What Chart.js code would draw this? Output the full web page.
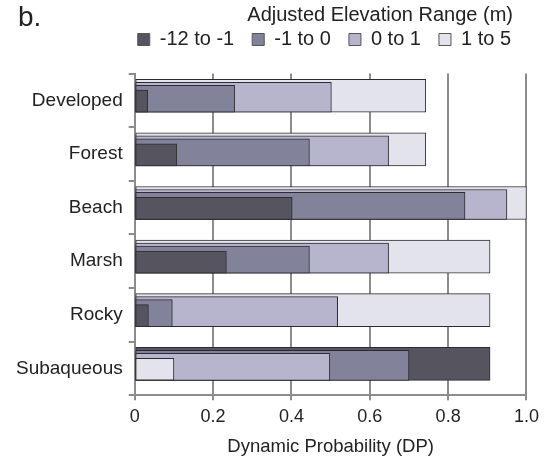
<!DOCTYPE html>
<html>
<head>
<meta charset="utf-8">
<script src="https://cdn.jsdelivr.net/npm/chart.js@4"></script>
<style>
  body { margin: 0; background: #fff; }
  #wrap { position: relative; width: 545px; height: 464px; }
  #panel { position: absolute; left: 18px; top: 1px; font: 28px "Liberation Sans", Arial, sans-serif; color: #222; }
</style>
</head>
<body>
<div id="wrap">
  <canvas id="chart"></canvas>
  <div id="panel">b.</div>
</div>
<script>
// Land cover classes (top to bottom)
const categories = ['Developed', 'Forest', 'Beach', 'Marsh', 'Rocky', 'Subaqueous'];

// Elevation ranges and their dynamic probability per class
const rangeLabels = ['-12 to -1', '-1 to 0', '0 to 1', '1 to 5'];
const rangeNeg12toNeg1 = [0.033, 0.107, 0.402, 0.234, 0.035, 0.907];
const rangeNeg1to0 = [0.255, 0.446, 0.843, 0.446, 0.096, 0.700];
const range0to1 = [0.502, 0.648, 0.950, 0.648, 0.518, 0.498];
const range1to5 = [0.743, 0.743, 1.000, 0.907, 0.907, 0.100];

const xTickLabels = ['0', '0.2', '0.4', '0.6', '0.8', '1.0'];

const rangeColors = ['#56555f', '#83829b', '#b7b5cd', '#e3e3eb'];
const edgeColor = '#2c2c30';
const axisGray = '#8c8c8c';
const textColor = '#222';
const FONT = '"Liberation Sans", Arial, sans-serif';

// bars overlap: longest bar is tallest and drawn behind, all share a bottom edge
const rankThickness = [33, 30, 27, 22];
const bandPx = 53.9;
const bottomFromCenter = 11.9;

const allSeries = [rangeNeg12toNeg1, rangeNeg1to0, range0to1, range1to5];

const datasets = [];
const scales = {};
for (let r = 0; r < 4; r++) {
    const data = [];
    const colors = [];
    categories.forEach((c, i) => {
        const sorted = allSeries.map((s, k) => ({ v: s[i], k: k }))
            .sort((a, b) => b.v - a.v);
        data.push({ x: sorted[r].v, y: i });
        colors.push(rangeColors[sorted[r].k]);
    });
    const id = 'y' + r;
    datasets.push({
        data: data,
        backgroundColor: colors,
        borderColor: edgeColor,
        borderWidth: 1,
        borderSkipped: false,
        barThickness: rankThickness[r],
        grouped: false,
        yAxisID: id,
        order: 4 - r
    });
    const shift = (bottomFromCenter - rankThickness[r] / 2) / bandPx;
    scales[id] = {
        type: 'linear',
        display: false,
        reverse: true,
        offset: false,
        min: -0.5 - shift,
        max: 5.5 - shift
    };
}

scales.y = {
    type: 'category',
    labels: categories,
    position: 'left',
    grid: {
        offset: true,
        drawOnChartArea: false,
        color: axisGray,
        lineWidth: 2,
        tickLength: 6
    },
    border: { color: axisGray, width: 2 },
    ticks: {
        color: textColor,
        font: { family: FONT, size: 19 },
        padding: 6
    }
};

scales.x = {
    type: 'linear',
    min: 0,
    max: 1,
    grid: {
        color: axisGray,
        lineWidth: 2,
        tickLength: 5
    },
    border: { color: axisGray, width: 2 },
    ticks: {
        stepSize: 0.2,
        color: textColor,
        font: { family: FONT, size: 18 },
        padding: 6,
        callback: function(value, index) {
            return xTickLabels[index];
        }
    },
    title: {
        display: true,
        text: 'Dynamic Probability (DP)',
        color: textColor,
        font: { family: FONT, size: 18.5 },
        padding: { top: 2, bottom: 0 }
    }
};

// room between legend and plot, and legend title pulled a bit left
const legendTweaks = {
    id: 'legendTweaks',
    beforeInit(chart) {
        const lg = chart.legend;
        const fit = lg.fit;
        lg.fit = function() {
            fit.call(this);
            this.height += 14;
        };
        const name = typeof lg.drawTitle === 'function' ? 'drawTitle' : '_drawTitle';
        const drawTitle = lg[name];
        lg[name] = function() {
            this.ctx.save();
            this.ctx.translate(-16, 0);
            drawTitle.call(this);
            this.ctx.restore();
        };
    }
};

new Chart(document.getElementById('chart'), {
    type: 'bar',
    data: { labels: categories, datasets: datasets },
    plugins: [legendTweaks],
    options: {
        indexAxis: 'y',
        responsive: true,
        maintainAspectRatio: false,
        animation: false,
        layout: { padding: { top: 0, right: 16, left: 10, bottom: 6 } },
        scales: scales,
        plugins: {
            tooltip: { enabled: false },
            legend: {
                position: 'top',
                align: 'end',
                onClick: null,
                title: {
                    display: true,
                    text: 'Adjusted Elevation Range (m)',
                    position: 'end',
                    color: textColor,
                    font: { family: FONT, size: 20 },
                    padding: { top: 5, bottom: -17.5 }
                },
                labels: {
                    boxWidth: 12,
                    boxHeight: 12,
                    padding: 18,
                    color: textColor,
                    font: { family: FONT, size: 20 },
                    generateLabels: function() {
                        return rangeLabels.map((label, k) => ({
                            text: label,
                            fillStyle: rangeColors[k],
                            strokeStyle: '#555',
                            lineWidth: 1,
                            fontColor: textColor,
                            hidden: false,
                            datasetIndex: k
                        }));
                    }
                }
            }
        }
    }
});
</script>
</body>
</html>
